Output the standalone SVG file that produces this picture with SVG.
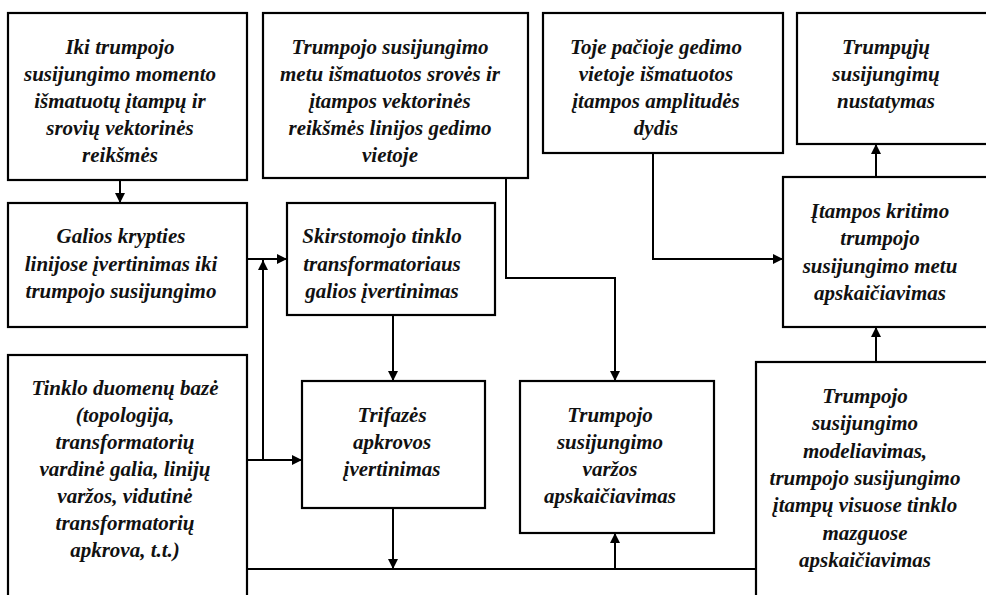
<svg xmlns="http://www.w3.org/2000/svg" width="986" height="595" viewBox="0 0 986 595">
  <defs>
    <marker id="arrow" viewBox="0 0 10 10" refX="10" refY="5" markerWidth="10" markerHeight="10" markerUnits="userSpaceOnUse" orient="auto">
      <path d="M0,0 L10,5 L0,10 Z" fill="#000"/>
    </marker>
    <style>
      .box { fill: #fff; stroke: #000; stroke-width: 2.2; }
      .lbl { font-family: "Liberation Serif", "Times New Roman", serif; font-size: 21px; font-weight: bold; font-style: italic; fill: #111; text-anchor: middle; }
      .wire { fill: none; stroke: #000; stroke-width: 2; }
      .arr { fill: none; stroke: #000; stroke-width: 2; marker-end: url(#arrow); }
    </style>
  </defs>
  <rect width="986" height="595" fill="#fff"/>

  <g id="connectors">
    <path class="arr" d="M120,180 V203"/>
    <path class="arr" d="M247,259 H287"/>
    <path class="arr" d="M263,460 V260"/>
    <path class="arr" d="M247,460 H302"/>
    <path class="arr" d="M393,315 V381"/>
    <path class="arr" d="M393,508 V569"/>
    <path class="wire" d="M247,569 H756"/>
    <path class="arr" d="M615,569 V533"/>
    <path class="arr" d="M506,178 V278 H615 V381"/>
    <path class="arr" d="M653,153 V259 H783"/>
    <path class="arr" d="M876,177 V144"/>
    <path class="arr" d="M876,362 V327"/>
  </g>

  <g id="node-pre-fault">
    <rect class="box" x="8" y="13" width="239" height="167"/>
    <text class="lbl" x="120" y="54">Iki trumpojo</text>
    <text class="lbl" x="120" y="81">susijungimo momento</text>
    <text class="lbl" x="120" y="108">išmatuotų įtampų ir</text>
    <text class="lbl" x="120" y="135">srovių vektorinės</text>
    <text class="lbl" x="120" y="162">reikšmės</text>
  </g>

  <g id="node-fault-measure">
    <rect class="box" x="263" y="13" width="265" height="165"/>
    <text class="lbl" x="390" y="54">Trumpojo susijungimo</text>
    <text class="lbl" x="390" y="81">metu išmatuotos srovės ir</text>
    <text class="lbl" x="390" y="108">įtampos vektorinės</text>
    <text class="lbl" x="390" y="135">reikšmės linijos gedimo</text>
    <text class="lbl" x="390" y="162">vietoje</text>
  </g>

  <g id="node-amplitude">
    <rect class="box" x="543" y="13" width="240" height="140"/>
    <text class="lbl" x="656" y="54">Toje pačioje gedimo</text>
    <text class="lbl" x="656" y="81">vietoje išmatuotos</text>
    <text class="lbl" x="656" y="108">įtampos amplitudės</text>
    <text class="lbl" x="656" y="135">dydis</text>
  </g>

  <g id="node-detection">
    <rect class="box" x="797" y="13" width="210" height="131"/>
    <text class="lbl" x="886" y="54">Trumpųjų</text>
    <text class="lbl" x="886" y="81">susijungimų</text>
    <text class="lbl" x="886" y="108">nustatymas</text>
  </g>

  <g id="node-power-direction">
    <rect class="box" x="8" y="203" width="239" height="124"/>
    <text class="lbl" x="121" y="243">Galios krypties</text>
    <text class="lbl" x="121" y="271">linijose įvertinimas iki</text>
    <text class="lbl" x="121" y="298">trumpojo susijungimo</text>
  </g>

  <g id="node-transformer-power">
    <rect class="box" x="287" y="203" width="208" height="112"/>
    <text class="lbl" x="382" y="243">Skirstomojo tinklo</text>
    <text class="lbl" x="382" y="271">transformatoriaus</text>
    <text class="lbl" x="382" y="298">galios įvertinimas</text>
  </g>

  <g id="node-voltage-drop">
    <rect class="box" x="783" y="177" width="220" height="150"/>
    <text class="lbl" x="880" y="218">Įtampos kritimo</text>
    <text class="lbl" x="880" y="245">trumpojo</text>
    <text class="lbl" x="880" y="273">susijungimo metu</text>
    <text class="lbl" x="880" y="300">apskaičiavimas</text>
  </g>

  <g id="node-database">
    <rect class="box" x="8" y="355" width="239" height="260"/>
    <text class="lbl" x="125" y="395">Tinklo duomenų bazė</text>
    <text class="lbl" x="125" y="422">(topologija,</text>
    <text class="lbl" x="125" y="449">transformatorių</text>
    <text class="lbl" x="125" y="476">vardinė galia, linijų</text>
    <text class="lbl" x="125" y="503">varžos, vidutinė</text>
    <text class="lbl" x="125" y="530">transformatorių</text>
    <text class="lbl" x="125" y="557">apkrova, t.t.)</text>
  </g>

  <g id="node-three-phase-load">
    <rect class="box" x="302" y="381" width="183" height="127"/>
    <text class="lbl" x="392" y="422">Trifazės</text>
    <text class="lbl" x="392" y="449">apkrovos</text>
    <text class="lbl" x="392" y="476">įvertinimas</text>
  </g>

  <g id="node-impedance">
    <rect class="box" x="520" y="381" width="194" height="152"/>
    <text class="lbl" x="610" y="422">Trumpojo</text>
    <text class="lbl" x="610" y="449">susijungimo</text>
    <text class="lbl" x="610" y="476">varžos</text>
    <text class="lbl" x="610" y="503">apskaičiavimas</text>
  </g>

  <g id="node-modelling">
    <rect class="box" x="756" y="362" width="250" height="253"/>
    <text class="lbl" x="865" y="403">Trumpojo</text>
    <text class="lbl" x="865" y="430">susijungimo</text>
    <text class="lbl" x="865" y="458">modeliavimas,</text>
    <text class="lbl" x="865" y="485">trumpojo susijungimo</text>
    <text class="lbl" x="865" y="512">įtampų visuose tinklo</text>
    <text class="lbl" x="865" y="540">mazguose</text>
    <text class="lbl" x="865" y="567">apskaičiavimas</text>
  </g>
</svg>
